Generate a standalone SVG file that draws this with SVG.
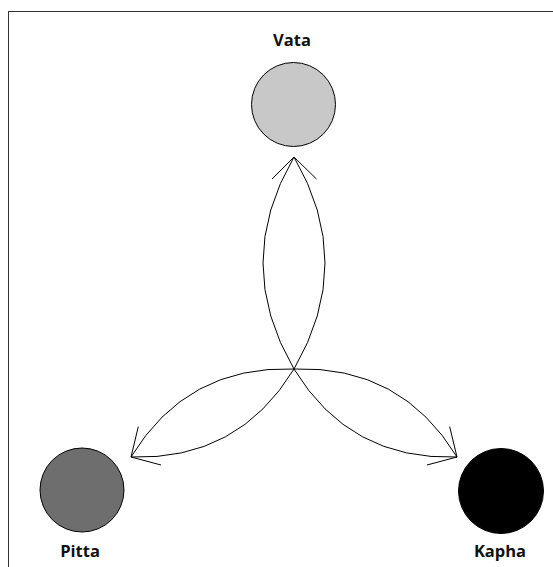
<svg xmlns="http://www.w3.org/2000/svg" width="553" height="567" viewBox="0 0 553 567">
<style>
.lbl{font-family:"Open Sans","DejaVu Sans",sans-serif;font-weight:bold;font-size:16.5px;fill:#111;text-anchor:middle}
.node{stroke:#000;stroke-width:1}
.edge{fill:none;stroke:#000;stroke-width:1}
</style>
<rect x="0" y="0" width="553" height="567" fill="#fff"/>
<rect x="8.5" y="11.5" width="560" height="580" fill="none" stroke="#333" stroke-width="1"/>
<g id="connectors">
<path class="edge" d="M294,369 Q232,263 294,157"/>
<path class="edge" d="M294,369 Q356,263 294,157"/>
<path class="edge" d="M272,179 L294,157 L316.5,179"/>
<path class="edge" d="M294,369 Q186.7,365.3 131,457"/>
<path class="edge" d="M294,369 Q238.3,460.7 131,457"/>
<path class="edge" d="M138.3,426.7 L131,457 L161,465"/>
<path class="edge" d="M294,369 Q401.3,365.3 457,457"/>
<path class="edge" d="M294,369 Q349.7,460.7 457,457"/>
<path class="edge" d="M449.7,426.7 L457,457 L427,465"/>
</g>
<g id="vata">
<circle class="node" cx="293.5" cy="104.5" r="42" fill="#c8c8c8"/>
<text class="lbl" x="292" y="46">Vata</text>
</g>
<g id="pitta">
<circle class="node" cx="82" cy="490" r="42" fill="#6e6e6e"/>
<text class="lbl" x="80" y="557">Pitta</text>
</g>
<g id="kapha">
<circle class="node" cx="501" cy="491" r="42.5" fill="#000"/>
<text class="lbl" x="500" y="557">Kapha</text>
</g>
</svg>
